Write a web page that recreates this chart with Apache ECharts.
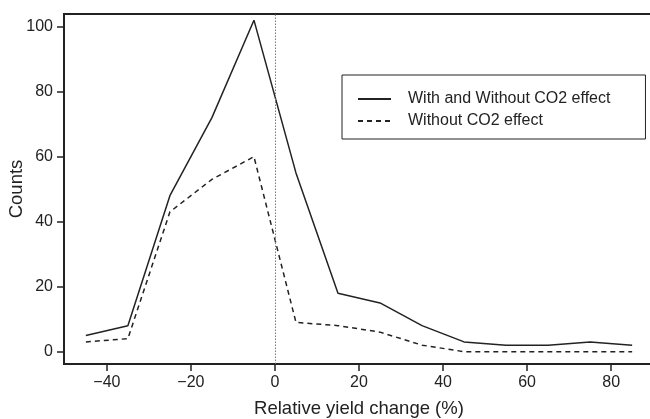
<!DOCTYPE html>
<html>
<head>
<meta charset="utf-8">
<script src="https://cdn.jsdelivr.net/npm/echarts@6/dist/echarts.min.js"></script>
<style>
  html, body { margin: 0; padding: 0; background: #fff; }
  #chart { width: 650px; height: 419px; }
</style>
</head>
<body>
<div id="chart"></div>
<script>
// bin centres of relative yield change (%)
var binCentres = [-45, -35, -25, -15, -5, 5, 15, 25, 35, 45, 55, 65, 75, 85]
var withAndWithout = [5, 8, 48, 72, 102, 55, 18, 15, 8, 3, 2, 2, 3, 2]
var withoutCO2 = [3, 4, 43, 53, 60, 9, 8, 6, 2, 0, 0, 0, 0, 0]
var xTicks = [-40, -20, 0, 20, 40, 60, 80]
var yTicks = [0, 20, 40, 60, 80, 100]

var ink = '#222'
var font = 'Liberation Sans, Arial, Helvetica, sans-serif'

function pairs(ys) {
  return binCentres.map(function (x, i) { return [x, ys[i]] })
}

var chart = echarts.init(document.getElementById('chart'))
chart.setOption({
  animation: false,
  textStyle: { fontFamily: font, color: ink },
  grid: {
    left: 64,
    top: 14,
    bottom: 55,
    right: -4,
    outerBoundsMode: 'none',
    containLabel: false,
    show: true,
    borderColor: ink,
    borderWidth: 2
  },
  legend: {
    orient: 'vertical',
    left: 342,
    top: 75,
    padding: [16, 35, 10, 15],
    itemWidth: 33,
    itemHeight: 16,
    itemGap: 6,
    borderColor: ink,
    borderWidth: 1,
    itemStyle: { opacity: 0 },
    textStyle: { fontSize: 16, color: ink, fontFamily: font, padding: [0, 0, 0, 12] },
    data: ['With and Without CO2 effect', 'Without CO2 effect']
  },
  xAxis: {
    type: 'value',
    min: -50.2,
    max: 90.2,
    name: 'Relative yield change (%)',
    nameLocation: 'middle',
    nameGap: 35,
    nameTextStyle: { fontSize: 18.5, color: ink },
    splitLine: { show: false },
    axisLine: { show: true, onZero: false, lineStyle: { color: ink, width: 2 } },
    axisTick: { show: true, length: 7, lineStyle: { color: ink, width: 1.5 }, customValues: xTicks },
    axisLabel: {
      fontSize: 16, color: ink, margin: 11, customValues: xTicks,
      formatter: function (v) { return String(v).replace('-', '\u2212') }
    }
  },
  yAxis: {
    type: 'value',
    min: -3.8,
    max: 103.9,
    name: 'Counts',
    nameLocation: 'middle',
    nameGap: 38,
    nameMoveOverlap: false,
    nameTextStyle: { fontSize: 18.5, color: ink },
    splitLine: { show: false },
    axisLine: { show: true, onZero: false, lineStyle: { color: ink, width: 2 } },
    axisTick: { show: true, length: 7, lineStyle: { color: ink, width: 1.5 }, customValues: yTicks },
    axisLabel: { fontSize: 16, color: ink, margin: 11, customValues: yTicks }
  },
  series: [
    {
      name: 'With and Without CO2 effect',
      type: 'line',
      symbol: 'none',
      data: pairs(withAndWithout),
      lineStyle: { color: ink, width: 1.5, type: 'solid' },
      itemStyle: { color: ink },
      markLine: {
        silent: true,
        symbol: 'none',
        label: { show: false },
        lineStyle: { color: '#777', type: [1.5, 1.5], width: 1 },
        data: [{ xAxis: 0 }]
      }
    },
    {
      name: 'Without CO2 effect',
      type: 'line',
      symbol: 'none',
      data: pairs(withoutCO2),
      lineStyle: { color: ink, width: 1.5, type: [5, 4] },
      itemStyle: { color: ink }
    }
  ]
})
</script>
</body>
</html>
